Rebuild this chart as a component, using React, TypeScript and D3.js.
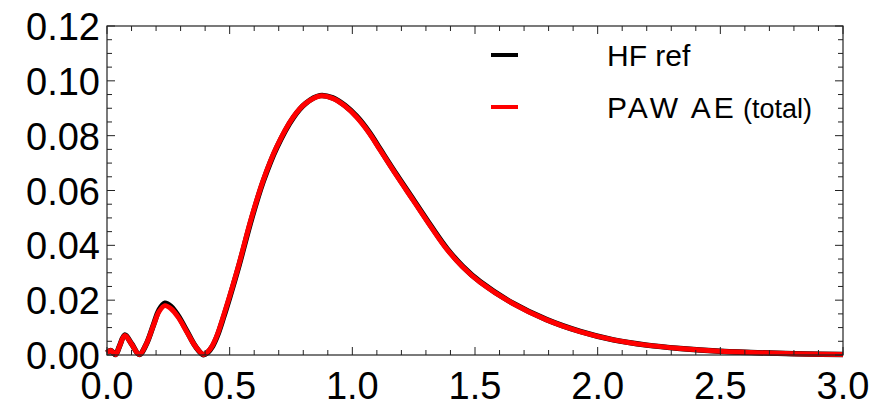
import React from "react";
import * as d3 from "d3";

const rValues = [
  0.0, 0.015, 0.035, 0.05, 0.073, 0.1, 0.132, 0.16, 0.19, 0.212, 0.236, 0.262, 0.29, 0.325, 0.36, 0.393,
  0.41, 0.43, 0.45, 0.474, 0.5, 0.535, 0.59, 0.637, 0.692, 0.76, 0.81, 0.868, 0.92, 0.97, 1.018, 1.07, 1.113, 1.18, 1.249, 1.32, 1.385,
  1.45, 1.521, 1.656, 1.792, 1.928, 2.064, 2.2, 2.336, 2.5, 2.7, 2.85, 3.0,
];
const pawValues = [
  0.0008, 0.0016, 0.0002, 0.003, 0.0071, 0.004, 0.0002, 0.004, 0.011, 0.0158, 0.018, 0.0168, 0.0138, 0.0085, 0.0032, 0.0002,
  0.0011, 0.0035, 0.0075, 0.014, 0.0215, 0.0322, 0.0504, 0.0638, 0.076, 0.0869, 0.0918, 0.0945, 0.0936, 0.0908, 0.0867, 0.0808, 0.0748, 0.0655, 0.0563, 0.0468, 0.0386,
  0.0321, 0.0265, 0.0187, 0.0128, 0.0085, 0.0055, 0.0036, 0.0024, 0.0014, 0.0007, 0.0004, 0.0002,
];
const hfValues = [
  0.0008, 0.0016, 0.0002, 0.003, 0.0073, 0.0041, 0.0002, 0.0039, 0.0111, 0.0164, 0.0189, 0.0176, 0.0143, 0.0088, 0.0032, 0.0001,
  0.0009, 0.0032, 0.0071, 0.0135, 0.021, 0.0317, 0.0499, 0.0634, 0.0757, 0.0867, 0.0918, 0.0946, 0.0938, 0.091, 0.087, 0.0811, 0.0751, 0.0658, 0.0566, 0.0471, 0.0389,
  0.0323, 0.0267, 0.0188, 0.0129, 0.0086, 0.0055, 0.0036, 0.0024, 0.0014, 0.0007, 0.0004, 0.0002,
];
const xTickValues = [0.0, 0.5, 1.0, 1.5, 2.0, 2.5, 3.0];
const yTickValues = [0.0, 0.02, 0.04, 0.06, 0.08, 0.1, 0.12];
const seriesNames = ["HF ref", "PAW AE"];
const seriesSuffix = ["", "(total)"];
const seriesColors = ["#000000", "#ff0000"];

const W = 882;
const H = 403;
const M = { left: 107, right: 843, top: 26, bottom: 355 };

export default function App() {
  const x = d3.scaleLinear().domain([0, 3]).range([M.left, M.right]);
  const y = d3.scaleLinear().domain([0, 0.12]).range([M.bottom, M.top]);
  const line = d3
    .line<number>()
    .x((_, i) => x(rValues[i]))
    .y((d) => y(d))
    .curve(d3.curveCatmullRom.alpha(0.5));

  const xMinor = d3.range(0, 31).map((i) => i / 10);
  const yMinor = d3.range(0, 25).map((i) => i * 0.005);
  const isMajorX = (v: number) => Math.abs(v * 2 - Math.round(v * 2)) < 1e-6;
  const isMajorY = (v: number) => Math.abs(v / 0.02 - Math.round(v / 0.02)) < 1e-6;
  const axisColor = "#222";
  const font = "'Liberation Sans', Arial, Helvetica, sans-serif";

  return (
    <svg
      width={W}
      height={H}
      style={{ position: "absolute", left: 0, top: 0, background: "#fff" }}
      fontFamily={font}
    >
      <rect x={0} y={0} width={W} height={H} fill="#fff" />
      {/* series */}
      <path d={line(hfValues) || ""} fill="none" stroke={seriesColors[0]} strokeWidth={5.5} strokeLinejoin="round" />
      <path d={line(pawValues) || ""} fill="none" stroke={seriesColors[1]} strokeWidth={5} strokeLinejoin="round" />

      {/* frame */}
      <rect
        x={M.left}
        y={M.top}
        width={M.right - M.left}
        height={M.bottom - M.top}
        fill="none"
        stroke={axisColor}
        strokeWidth={1.2}
      />
      {/* x ticks */}
      {xMinor.map((v, i) => {
        const len = isMajorX(v) ? 8 : 5;
        const px = x(v);
        return (
          <g key={"xt" + i} stroke={axisColor} strokeWidth={1}>
            <line x1={px} x2={px} y1={M.bottom} y2={M.bottom - len} />
            <line x1={px} x2={px} y1={M.top} y2={M.top + len} />
          </g>
        );
      })}
      {/* y ticks */}
      {yMinor.map((v, i) => {
        const len = isMajorY(v) ? 8 : 5;
        const py = y(v);
        return (
          <g key={"yt" + i} stroke={axisColor} strokeWidth={1}>
            <line x1={M.left} x2={M.left + len} y1={py} y2={py} />
            <line x1={M.right} x2={M.right - len} y1={py} y2={py} />
          </g>
        );
      })}
      {/* x labels */}
      {xTickValues.map((v, i) => (
        <text key={"xl" + i} x={x(v)} y={399} textAnchor="middle" fontSize={38} fill="#000">
          {d3.format(".1f")(v)}
        </text>
      ))}
      {/* y labels */}
      {yTickValues.map((v, i) => (
        <text key={"yl" + i} x={100} y={y(v) + 14} textAnchor="end" fontSize={38} fill="#000">
          {d3.format(".2f")(v)}
        </text>
      ))}
      {/* legend */}
      {seriesNames.map((name, i) => {
        const ly = 55 + i * 52;
        return (
          <g key={"lg" + i}>
            <line x1={491} x2={518} y1={ly} y2={ly} stroke={seriesColors[i]} strokeWidth={4} />
            <text x={607} y={ly + 11} fontSize={30} fill="#000" letterSpacing={i === 1 ? 3 : 0}>
              {name}
            </text>
            {seriesSuffix[i] ? (
              <text x={743} y={ly + 11} fontSize={27} fill="#000">
                {seriesSuffix[i]}
              </text>
            ) : null}
          </g>
        );
      })}
    </svg>
  );
}
